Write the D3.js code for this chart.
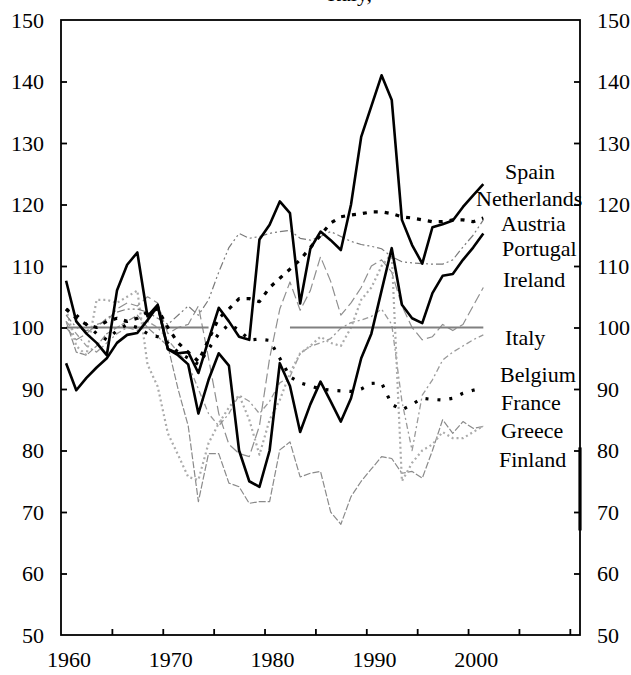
<!DOCTYPE html>
<html><head><meta charset="utf-8">
<script src="https://cdn.jsdelivr.net/npm/d3@7"></script>
<style>
html,body{margin:0;padding:0;background:#fff;}
svg text{font-family:"Liberation Serif","DejaVu Serif",serif;fill:#000;}
</style></head>
<body><svg id="c" width="631" height="675"></svg>
<script>
const years = d3.range(1960, 2002);
const yTicks = [50,60,70,80,90,100,110,120,130,140,150];
const xLabels = [1960,1970,1980,1990,2000];
const xTickYears = [1965,1970,1975,1980,1985,1990,1995,2000,2005,2010];

const spain = [107.6,101,99,97.5,95.5,106,110.2,112.2,101.8,103.7, 96.5,95.8,96,92.6,98,103.2,101,98.5,98,114.3, 116.7,120.5,118.6,103.9,112.8,115.6,114.2,112.6,120,131, 136,141,137,117.5,113.4,110.4,116.3,116.8,117.4,119.6, 121.5,123.3];
const netherlands = [103,101.5,100.5,100,101,101.5,101,101.5,102.5,103, 100,97.5,96,94.5,98,101.5,103,104.7,104.7,104.2, 106.5,108,109.5,111,113,115,117,118,118.3,118.5, 118.8,118.8,118.5,118,117.8,117.5,117.2,117.2,117.5,117.5, 117.2,117.8];
const austria = [102,100,99.5,100,101.5,102.5,103,103,102.5,101.5, 100.5,102,103.5,102,104.5,109,113,115.3,114.5,114.8, 115.3,115.6,115.8,114.5,114.2,114.8,115.6,114.8,114,113.5, 113.2,112.8,111.5,110.7,110.5,110.4,110.3,110.3,111,113.1, 115,117.5];
const portugal = [100,98,99,100.5,101,103,104,103.5,105,104, 99,100,100.5,103.5,95,86,81,79.5,79,84, 95,103,107.4,102.8,106,111.5,107.5,102,104,106.5, 110,111,109,103.5,100,98,98.5,100.5,99.5,100.5, 103.5,106.5];
const ireland = [94.2,89.8,91.8,93.5,95,97.5,98.8,99.1,101.2,103.5, 96.5,95.5,94,86,91.5,95.8,93.8,80,75,74.1, 80,94.2,90.5,83,87.5,91.2,88,84.7,88.5,95, 99,106,112.9,103.7,101.5,100.7,105.6,108.4,108.7,111, 113,115.3];
const italy = [100,100,100,100,100,100,100,100,100,100, 100,100,100,100,100,null,null,null,null,null, null,null,100,100,100,100,100,100,100,100, 100,100,100,100,100,100,100,100,100,100, 100,100];
const belgium = [101,99,97,96,97.5,99,100,99.5,101,100, 98,96,94,90,86,84,86,89,88,86, 88,91,92,95.8,96.9,97.5,98.2,99.9,100.8,101.2, 101.8,103,100.5,88,80,89,91.5,94.7,96,97, 98,98.8];
const france = [103,102,100.5,99,98,99.5,100.5,100,99,98.5, 97.5,96,95,94,96.5,99,100.5,99.6,98,98.1, 97.9,95,92,91,90.5,90,89.8,89.7,89.6,90, 90.9,91,87.5,86.6,87.5,88.5,88.3,88.2,88.5,89.3, 89.8,90.2];
const greece = [103,97,95.5,104.5,104.5,104,105,106,94,90.4, 82.8,79.3,75.7,75.2,81.2,84.4,87,89,85,79.3, 85,88.2,92.6,95.8,97,98.5,97.5,97,100,104.5, 106.5,110,112,75,78,80,81,83,82,82, 83,84];
const finland = [101,96,95.5,97,99,100,101,102,100,98.5, 97,90,84,71.7,79.5,79.5,74.7,74.1,71.4,71.7, 71.7,80.1,81.4,75.7,76.3,76.6,70,68,72.5,75, 77,79,78.7,76.3,76.6,75.5,80,85,82.8,84.7, 83.6,83.9];

const seriesNames = ["Spain","Netherlands","Austria","Portugal","Ireland","Italy","Belgium","France","Greece","Finland"];
const seriesValues = [spain,netherlands,austria,portugal,ireland,italy,belgium,france,greece,finland];

const styles = {
  Finland:    {stroke:"#8a8a8a", w:1.2, dash:"7,2"},
  Belgium:    {stroke:"#9a9a9a", w:1.3, dash:"6,3,2,3"},
  Portugal:   {stroke:"#8f8f8f", w:1.2, dash:"10,4"},
  Greece:     {stroke:"#ababab", w:2.2, dash:"2,3"},
  Austria:    {stroke:"#7a7a7a", w:1.2, dash:"8,3,2,3,2,3"},
  Italy:      {stroke:"#808080", w:2, dash:null},
  France:     {stroke:"#000", w:3.2, dash:"3,9"},
  Netherlands:{stroke:"#000", w:3.2, dash:"4,7"},
  Ireland:    {stroke:"#000", w:2.6, dash:null},
  Spain:      {stroke:"#000", w:2.6, dash:null}
};
const drawOrder = ["Finland","Belgium","Portugal","Greece","Austria","Italy","France","Netherlands","Ireland","Spain"];

const labelPos = {
  Spain:[505,179], Netherlands:[476,206], Austria:[501,231], Portugal:[502,256], Ireland:[503,287],
  Italy:[505,345], Belgium:[500,382], France:[501,410], Greece:[501,438], Finland:[499,467]
};

const svg = d3.select("#c");
const L = 61, R = 580, T = 20, B = 635;
const x = d3.scaleLinear().domain([1959.5, 2010.5]).range([L, R]);
const y = d3.scaleLinear().domain([50, 150]).range([B, T]);

// title, cut off at the top edge as in the original (only the descenders show)
svg.append("text").attr("x", 372).attr("y", 1).attr("text-anchor", "end")
  .attr("font-size", 22).text("Italy,");

const plot = svg.append("g");
const line = d3.line().defined(d => d[1] != null).x(d => x(d[0])).y(d => y(d[1]));

drawOrder.forEach(name => {
  const vals = seriesValues[seriesNames.indexOf(name)];
  const st = styles[name];
  plot.append("path")
    .datum(years.map((yr, i) => [yr, vals[i]]))
    .attr("d", line)
    .attr("fill", "none")
    .attr("stroke", st.stroke)
    .attr("stroke-width", st.w)
    .attr("stroke-dasharray", st.dash)
    .attr("stroke-linejoin", "round");
});

svg.append("rect").attr("x", L).attr("y", T).attr("width", R - L).attr("height", B - T)
  .attr("fill", "none").attr("stroke", "#000").attr("stroke-width", 1.8);
svg.append("line").attr("x1", R).attr("x2", R).attr("y1", y(80.5)).attr("y2", y(67))
  .attr("stroke", "#000").attr("stroke-width", 3.2);

const yAxisL = d3.axisRight(y).tickValues(yTicks.slice(1, -1)).tickSize(6).tickFormat("");
svg.append("g").attr("transform", `translate(${L},0)`).call(yAxisL)
  .call(g => g.select(".domain").remove())
  .selectAll("line").attr("stroke", "#000").attr("stroke-width", 1.8);
const yAxisR = d3.axisLeft(y).tickValues(yTicks.slice(1, -1)).tickSize(6).tickFormat("");
svg.append("g").attr("transform", `translate(${R},0)`).call(yAxisR)
  .call(g => g.select(".domain").remove())
  .selectAll("line").attr("stroke", "#000").attr("stroke-width", 1.8);

svg.append("g").selectAll("text").data(yTicks).join("text")
  .attr("x", 44).attr("y", d => y(d) + 7.5).attr("text-anchor", "end")
  .attr("font-size", 22).text(d => d);
svg.append("g").selectAll("text").data(yTicks).join("text")
  .attr("x", 597).attr("y", d => y(d) + 7.5).attr("text-anchor", "start")
  .attr("font-size", 22).text(d => d);

const xAxis = d3.axisTop(x).tickValues(xTickYears.map(v => v - 0.5)).tickSize(6).tickFormat("");
svg.append("g").attr("transform", `translate(0,${B})`).call(xAxis)
  .call(g => g.select(".domain").remove())
  .selectAll("line").attr("stroke", "#000").attr("stroke-width", 1.8);
svg.append("g").selectAll("text").data(xLabels).join("text")
  .attr("x", d => x(d) + 3).attr("y", 667).attr("text-anchor", "middle")
  .attr("font-size", 22).text(d => d);

svg.append("g").selectAll("text").data(seriesNames).join("text")
  .attr("x", d => labelPos[d][0]).attr("y", d => labelPos[d][1])
  .attr("font-size", 22).text(d => d);
</script></body></html>
